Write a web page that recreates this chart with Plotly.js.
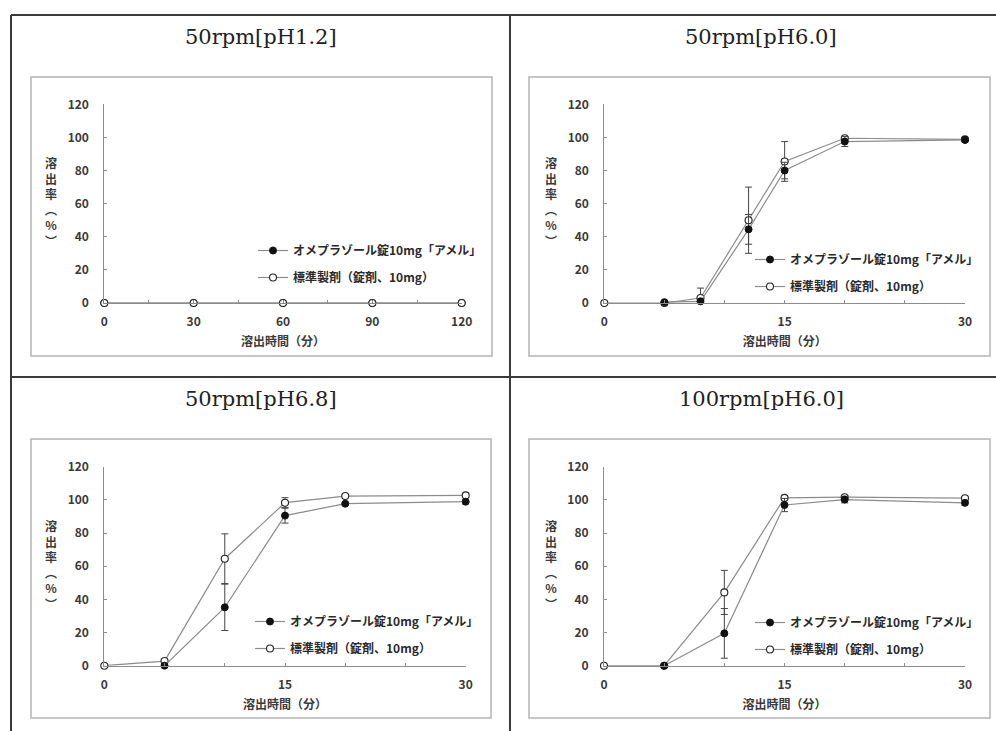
<!DOCTYPE html>
<html>
<head>
<meta charset="utf-8">
<script src="https://cdn.plot.ly/plotly-3.0.1.min.js"></script>
<style>html,body{margin:0;padding:0;background:#fff;}#chart{width:996px;height:731px;}</style>
</head>
<body>
<div id="chart"></div>
<script>
// ---------- data ----------
const panelTitles = ['50rpm[pH1.2]', '50rpm[pH6.0]', '50rpm[pH6.8]', '100rpm[pH6.0]'];
const seriesNames = ['オメプラゾール錠10mg「アメル」', '標準製剤（錠剤、10mg）'];
const xTitle = '溶出時間（分）';
const yTitleChars = ['溶', '出', '率', '︵', '%', '︶'];

// 50rpm pH1.2
const a_time = [0, 30, 60, 90, 120];
const a_test = [0, 0, 0, 0, 0];
const a_ref = [0, 0, 0, 0, 0];

// 50rpm pH6.0
const b_testTime = [5, 8, 12, 15, 20, 30];
const b_test = [0.5, 1, 44.5, 80, 97.5, 98.5];
const b_testErr = [0, 1, 9, 5, 3, 1];
const b_refTime = [0, 5, 8, 12, 15, 20, 30];
const b_ref = [0, 0, 3, 50, 85.5, 99.5, 98.8];
const b_refErr = [0, 0, 6, 20, 12, 1, 1];

// 50rpm pH6.8
const c_testTime = [5, 10, 15, 20, 30];
const c_test = [0, 35.2, 90.5, 97.7, 98.9];
const c_testErr = [0.5, 14, 4.5, 1, 1.5];
const c_refTime = [0, 5, 10, 15, 20, 30];
const c_ref = [0, 2.8, 64.5, 98.3, 102.3, 102.7];
const c_refErr = [0, 1, 15, 3, 0.5, 0.5];

// 100rpm pH6.0
const d_testTime = [5, 10, 15, 20, 30];
const d_test = [0, 19.5, 96.9, 100.2, 98.2];
const d_testErr = [0, 15, 4, 2, 1.5];
const d_refTime = [0, 5, 10, 15, 20, 30];
const d_ref = [0, 0, 44.2, 101.2, 101.6, 101];
const d_refErr = [0, 0, 13.3, 1, 1, 1];

// ---------- helpers ----------
const W = 996, H = 731;
const px = v => v / W;
const py = v => 1 - v / H;
const CJK = '"Noto Sans CJK JP", "Noto Sans", sans-serif';
const lineCol = '#8c8c8c';
const textCol = '#3a3a3a';

function testTrace(x, y, err, ax, lg) {
  return {
    type: 'scatter', mode: 'lines+markers', x: x, y: y,
    xaxis: 'x' + ax, yaxis: 'y' + ax, legend: lg,
    name: seriesNames[0], legendgroup: 't', legendrank: 1,
    line: {color: lineCol, width: 1.2},
    marker: {symbol: 'circle', size: 7, color: '#111', line: {color: '#111', width: 1}},
    error_y: err ? {type: 'data', array: err, visible: true, color: '#444', thickness: 1, width: 3.5} : undefined,
    cliponaxis: false
  };
}
function refTrace(x, y, err, ax, lg) {
  return {
    type: 'scatter', mode: 'lines+markers', x: x, y: y,
    xaxis: 'x' + ax, yaxis: 'y' + ax, legend: lg,
    name: seriesNames[1], legendgroup: 'r', legendrank: 2,
    line: {color: lineCol, width: 1.2},
    marker: {symbol: 'circle', size: 7, color: '#fff', line: {color: '#222', width: 1.1}},
    error_y: err ? {type: 'data', array: err, visible: true, color: '#444', thickness: 1, width: 3.5} : undefined,
    cliponaxis: false
  };
}

const traces = [
  testTrace(a_time, a_test, null, '', 'legend'),
  refTrace(a_time, a_ref, null, '', 'legend'),
  refTrace(b_refTime, b_ref, b_refErr, '2', 'legend2'),
  testTrace(b_testTime, b_test, b_testErr, '2', 'legend2'),
  refTrace(c_refTime, c_ref, c_refErr, '3', 'legend3'),
  testTrace(c_testTime, c_test, c_testErr, '3', 'legend3'),
  refTrace(d_refTime, d_ref, d_refErr, '4', 'legend4'),
  testTrace(d_testTime, d_test, d_testErr, '4', 'legend4')
];

const tickFont = {family: CJK, size: 12, color: textCol, weight: 'bold'};
function xAxis(domainPx, maxV, major, minor, anchor) {
  return {
    domain: [px(domainPx[0]), px(domainPx[1])], range: [0, maxV], anchor: anchor,
    dtick: major, tick0: 0, ticks: 'inside', ticklen: 3, tickcolor: lineCol,
    minor: {dtick: minor, ticks: 'inside', ticklen: 3, tickcolor: lineCol},
    showline: true, linecolor: lineCol, linewidth: 1, showgrid: false, zeroline: false,
    tickfont: tickFont, ticklabelstandoff: 8,
    title: {text: xTitle, font: {family: CJK, size: 12, color: textCol, weight: 'bold'}, standoff: 9}
  };
}
function yAxis(domainPx, anchor) {
  return {
    domain: [py(domainPx[0]), py(domainPx[1])], range: [0, 120], anchor: anchor,
    dtick: 20, ticks: 'inside', ticklen: 3, tickcolor: lineCol,
    showline: true, linecolor: lineCol, linewidth: 1, showgrid: false, zeroline: false,
    tickfont: tickFont, ticklabelstandoff: 12
  };
}

const legendBase = (xPx, yPx) => ({
  x: px(xPx), y: py(yPx), xanchor: 'left', yanchor: 'top',
  bgcolor: 'rgba(0,0,0,0)', borderwidth: 0, traceorder: 'grouped', tracegroupgap: 8,
  font: {family: CJK, size: 12, color: '#2a2a2a', weight: 'bold'}, itemwidth: 30
});

// title annotations & y-axis vertical titles
const annotations = [];
const titlePos = [[261, 37], [761, 37], [261, 399], [761, 399]];
panelTitles.forEach((t, i) => annotations.push({
  text: t, xref: 'paper', yref: 'paper', x: px(titlePos[i][0]), y: py(titlePos[i][1]),
  xanchor: 'center', yanchor: 'middle', showarrow: false,
  font: {family: '"DejaVu Serif", "Liberation Serif", serif', size: 21, color: '#222'}
}));
const yTitlePos = [[51, 202], [551, 202], [51, 564], [551, 564]];
yTitlePos.forEach(p => annotations.push({
  text: yTitleChars.join('<br>'), xref: 'paper', yref: 'paper', x: px(p[0]), y: py(p[1]),
  xanchor: 'center', yanchor: 'middle', showarrow: false, align: 'center',
  font: {family: CJK, size: 12, color: textCol, weight: 'bold'}
}));

// frames and table lines
const shapes = [];
const frames = [[31, 77, 492, 356], [529, 77, 990, 356], [31, 439, 491, 718], [529, 439, 990, 718]];
frames.forEach(f => shapes.push({
  type: 'rect', xref: 'paper', yref: 'paper', x0: px(f[0]), y0: py(f[1]), x1: px(f[2]), y1: py(f[3]),
  line: {color: '#b4b4b4', width: 1.5}, fillcolor: 'rgba(0,0,0,0)', layer: 'below'
}));
const tableLines = [[11, 15, 996, 15], [11, 15, 11, 731], [510, 15, 510, 731], [11, 377, 996, 377]];
tableLines.forEach(l => shapes.push({
  type: 'line', xref: 'paper', yref: 'paper', x0: px(l[0]), y0: py(l[1]), x1: px(l[2]), y1: py(l[3]),
  line: {color: '#3a3a3a', width: 2}
}));

const layout = {
  width: W, height: H, autosize: false,
  margin: {l: 0, r: 0, t: 0, b: 0, pad: 0},
  paper_bgcolor: '#fff', plot_bgcolor: 'rgba(0,0,0,0)',
  showlegend: true,
  xaxis: xAxis([104.3, 461.7], 120, 30, 15, 'y'),
  yaxis: yAxis([303, 104.3], 'x'),
  xaxis2: xAxis([604.3, 965], 30, 15, 5, 'y2'),
  yaxis2: yAxis([303, 104.3], 'x2'),
  xaxis3: xAxis([104.3, 465.7], 30, 15, 5, 'y3'),
  yaxis3: yAxis([665.7, 466.7], 'x3'),
  xaxis4: xAxis([604, 965], 30, 15, 5, 'y4'),
  yaxis4: yAxis([665.7, 466.7], 'x4'),
  legend: legendBase(253, 236),
  legend2: legendBase(750, 245),
  legend3: legendBase(250, 607),
  legend4: legendBase(750, 608),
  annotations: annotations,
  shapes: shapes
};

Plotly.newPlot('chart', traces, layout, {staticPlot: true, displayModeBar: false});
</script>
</body>
</html>
